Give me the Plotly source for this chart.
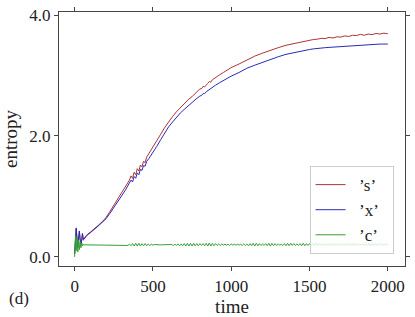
import plotly.graph_objects as go

# ---- data ----
t_sx = [0, 5, 10, 15, 20, 25, 30, 35, 40, 45, 50, 55, 60, 70, 80, 100, 125, 150, 175, 200,
        225, 250, 275, 300, 325, 350, 360, 370, 380, 390, 400, 410, 420, 430, 440, 450, 460,
        475, 500, 525, 550, 575, 600, 625, 650, 675, 700, 725, 750, 775, 800, 810, 820, 830,
        840, 850, 860, 870, 880, 900, 925, 950, 975, 1000, 1050, 1100, 1150, 1200, 1250, 1300,
        1350, 1400, 1425, 1450, 1475, 1500, 1525, 1550, 1575, 1600, 1625, 1650, 1675, 1700,
        1725, 1750, 1775, 1800, 1825, 1850, 1875, 1900, 1925, 1950, 1975, 2000]

s_vals = [0.05, 0.30, 0.47, 0.30, 0.17, 0.28, 0.42, 0.30, 0.22, 0.27, 0.38, 0.30, 0.30, 0.34, 0.37, 0.41, 0.46, 0.52, 0.58, 0.65,
          0.75, 0.85, 0.95, 1.05, 1.16, 1.27, 1.34, 1.30, 1.40, 1.36, 1.46, 1.42, 1.52, 1.49, 1.58, 1.56, 1.65,
          1.71, 1.81, 1.92, 2.03, 2.14, 2.24, 2.32, 2.40, 2.47, 2.54, 2.60, 2.65, 2.71, 2.78, 2.78, 2.82, 2.81,
          2.85, 2.87, 2.90, 2.89, 2.93, 2.97, 3.01, 3.05, 3.09, 3.13, 3.19, 3.26, 3.32, 3.37, 3.42, 3.46,
          3.50, 3.53, 3.545, 3.56, 3.565, 3.58, 3.595, 3.60, 3.615, 3.61, 3.63, 3.62, 3.64, 3.635,
          3.655, 3.645, 3.665, 3.66, 3.68, 3.665, 3.685, 3.675, 3.695, 3.685, 3.70, 3.69]

x_vals = [0.05, 0.35, 0.48, 0.28, 0.15, 0.30, 0.43, 0.28, 0.20, 0.28, 0.39, 0.28, 0.29, 0.33, 0.36, 0.40, 0.45, 0.51, 0.57, 0.63,
          0.72, 0.81, 0.91, 1.01, 1.11, 1.21, 1.27, 1.24, 1.33, 1.30, 1.39, 1.36, 1.45, 1.43, 1.51, 1.50, 1.58,
          1.63, 1.72, 1.83, 1.94, 2.05, 2.15, 2.23, 2.31, 2.38, 2.44, 2.50, 2.56, 2.61, 2.66, 2.67, 2.70, 2.70,
          2.73, 2.75, 2.77, 2.78, 2.80, 2.84, 2.88, 2.92, 2.95, 2.99, 3.05, 3.12, 3.17, 3.22, 3.27, 3.31,
          3.35, 3.38, 3.395, 3.41, 3.42, 3.43, 3.44, 3.45, 3.455, 3.46, 3.465, 3.47, 3.475, 3.48,
          3.485, 3.49, 3.495, 3.50, 3.505, 3.51, 3.51, 3.51, 3.515, 3.52, 3.52, 3.52]

t_c_early = [0, 5, 10, 15, 20, 25, 30, 35, 40, 45, 50, 55, 60]
c_early = [0.00, 0.35, 0.10, 0.33, 0.08, 0.28, 0.12, 0.25, 0.15, 0.23, 0.18, 0.21, 0.20]
t_c_late = list(range(70, 2001, 10))
c_late = [
    # 70 - 330
    0.20, 0.20, 0.20, 0.20, 0.20, 0.20, 0.20, 0.20, 0.20, 0.20,
    0.20, 0.20, 0.20, 0.20, 0.20, 0.20, 0.20, 0.20, 0.20, 0.20,
    0.20, 0.20, 0.20, 0.20, 0.20, 0.20, 0.20,
    # 340 - 510
    0.19, 0.21, 0.185, 0.22, 0.18, 0.225, 0.18, 0.225, 0.18, 0.22,
    0.185, 0.22, 0.185, 0.215, 0.19, 0.21, 0.195, 0.205,
    # 520 - 680
    0.20, 0.20, 0.20, 0.20, 0.20, 0.20, 0.20, 0.195, 0.205, 0.195,
    0.205, 0.19, 0.21, 0.19, 0.215, 0.185, 0.215,
    # 690 - 1000
    0.185, 0.22, 0.18, 0.225, 0.18, 0.225, 0.18, 0.225, 0.185, 0.22,
    0.185, 0.22, 0.19, 0.22, 0.185, 0.225, 0.18, 0.23, 0.18, 0.225,
    0.185, 0.22, 0.19, 0.215, 0.19, 0.215, 0.195, 0.21, 0.195, 0.21,
    0.19, 0.215,
    # 1010 - 1100
    0.195, 0.21, 0.195, 0.21, 0.195, 0.21, 0.19, 0.215, 0.19, 0.215,
    # 1110 - 1500
    0.185, 0.22, 0.185, 0.225, 0.18, 0.225, 0.185, 0.22, 0.19, 0.215,
    0.19, 0.22, 0.185, 0.225, 0.18, 0.225, 0.185, 0.22, 0.19, 0.215,
    0.195, 0.21, 0.19, 0.22, 0.185, 0.225, 0.185, 0.225, 0.19, 0.22,
    0.19, 0.215, 0.19, 0.22, 0.185, 0.225, 0.185, 0.22, 0.19, 0.22,
    # 1510 - 2000
    0.19, 0.22, 0.185, 0.225, 0.185, 0.225, 0.19, 0.22, 0.19, 0.215,
    0.195, 0.22, 0.19, 0.225, 0.185, 0.225, 0.19, 0.22, 0.19, 0.22,
    0.195, 0.215, 0.19, 0.22, 0.19, 0.225, 0.185, 0.225, 0.19, 0.22,
    0.19, 0.22, 0.195, 0.215, 0.19, 0.22, 0.19, 0.225, 0.185, 0.225,
    0.19, 0.22, 0.19, 0.22, 0.195, 0.215, 0.19, 0.22, 0.19, 0.22,
]
t_c = t_c_early + t_c_late
c_vals = c_early + c_late

names = ["’s’", "’x’", "’c’"]
x_ticks = [0, 500, 1000, 1500, 2000]
y_ticks = [0.0, 2.0, 4.0]

FONT = "Liberation Serif"
PAD = "\u00a0\u00a0"

fig = go.Figure()
fig.add_trace(go.Scatter(x=t_sx, y=s_vals, mode="lines", name=PAD + names[0] + PAD,
                         line=dict(color="#b03333", width=1)))
fig.add_trace(go.Scatter(x=t_sx, y=x_vals, mode="lines", name=PAD + names[1] + PAD,
                         line=dict(color="#2a2ab8", width=1)))
fig.add_trace(go.Scatter(x=t_c, y=c_vals, mode="lines", name=PAD + names[2] + PAD,
                         line=dict(color="#33a033", width=1)))

axis_common = dict(showline=True, linecolor="#444444", linewidth=1.3, mirror="allticks",
                   ticks="outside", ticklen=4, tickwidth=1, tickcolor="#444444",
                   showgrid=False, zeroline=False, automargin=False,
                   tickfont=dict(family=FONT, size=17, color="#222222"))

fig.update_layout(
    width=415, height=317,
    margin=dict(l=59, r=10, t=12, b=51),
    paper_bgcolor="white", plot_bgcolor="white",
    font=dict(family=FONT, size=17, color="#222222"),
    xaxis=dict(range=[-100, 2110], tickvals=x_ticks,
               title=dict(text="time", font=dict(family=FONT, size=19), standoff=0),
               **axis_common),
    yaxis=dict(range=[-0.15, 4.05], tickvals=y_ticks, tickformat=".1f",
               title=dict(text="entropy", font=dict(family=FONT, size=19), standoff=6),
               **axis_common),
    legend=dict(x=0.967, y=0.047, xanchor="right", yanchor="bottom",
                bgcolor="rgba(255,255,255,0.8)", bordercolor="#cccccc", borderwidth=1,
                font=dict(family=FONT, size=17)),
    showlegend=True,
)
fig.add_annotation(text="(d)", xref="paper", yref="paper", x=-0.116, y=-0.126,
                   xanchor="center", yanchor="middle", showarrow=False,
                   font=dict(family=FONT, size=17, color="#222222"))

fig.write_html("out.html", config={"displayModeBar": False},
               post_script="document.body.style.margin='0';document.body.style.padding='0';")
